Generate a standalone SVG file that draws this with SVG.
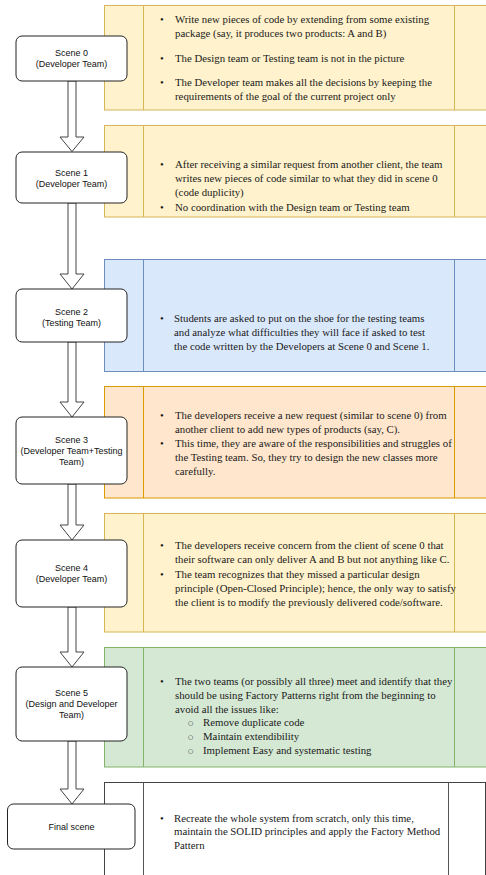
<svg xmlns="http://www.w3.org/2000/svg" width="486" height="875" viewBox="0 0 486 875">
<style>
.bg{fill:#ffffff}
.pnl{stroke-width:1}
.y{fill:#fff2cc;stroke:#d6b656}
.b{fill:#dae8fc;stroke:#6c8ebf}
.o{fill:#ffe6cc;stroke:#d79b00}
.g{fill:#d5e8d4;stroke:#82b366}
.w{fill:#ffffff;stroke:#444444}
.ly{stroke:#d6b656}
.lb{stroke:#6c8ebf}
.lo{stroke:#d79b00}
.lg{stroke:#82b366}
.lw{stroke:#555555}
.t{font-family:"Liberation Serif","Times New Roman",serif;font-size:10.8px;fill:#1a1a1a}
.sb{font-family:"DejaVu Sans",sans-serif;font-size:6px;fill:#1a1a1a}
.box{fill:#ffffff;stroke:#222222;stroke-width:1}
.lbl{font-family:"Liberation Sans",Arial,sans-serif;font-size:9px;fill:#111111;text-anchor:middle}
.arr{fill:#ffffff;stroke:#444444;stroke-width:1;stroke-linejoin:miter}
</style>
<rect class="bg" x="0" y="0" width="486" height="875"/>

<g id="panel0">
<rect class="pnl y" x="104.5" y="5.5" width="400" height="104.5"/>
<line class="ly" x1="143.5" y1="5.5" x2="143.5" y2="110"/>
<line class="ly" x1="454.5" y1="5.5" x2="454.5" y2="110"/>
<text class="t" x="160" y="23">•</text><text class="t" x="175" y="23">Write new pieces of code by extending from some existing</text>
<text class="t" x="175" y="37">package (say, it produces two products: A and B)</text>
<text class="t" x="160" y="62">•</text><text class="t" x="175" y="62">The Design team or Testing team is not in the picture</text>
<text class="t" x="160" y="86">•</text><text class="t" x="175" y="86">The Developer team makes all the decisions by keeping the</text>
<text class="t" x="175" y="100">requirements of the goal of the current project only</text>
</g>

<g id="panel1">
<rect class="pnl y" x="104.5" y="125.5" width="400" height="91.5"/>
<line class="ly" x1="143.5" y1="125.5" x2="143.5" y2="217"/>
<line class="ly" x1="454.5" y1="125.5" x2="454.5" y2="217"/>
<text class="t" x="160" y="168">•</text><text class="t" x="175" y="168">After receiving a similar request from another client, the team</text>
<text class="t" x="175" y="182">writes new pieces of code similar to what they did in scene 0</text>
<text class="t" x="175" y="196">(code duplicity)</text>
<text class="t" x="160" y="210.5">•</text><text class="t" x="175" y="210.5">No coordination with the Design team or Testing team</text>
</g>

<g id="panel2">
<rect class="pnl b" x="104.5" y="259.5" width="400" height="112"/>
<line class="lb" x1="143.5" y1="259.5" x2="143.5" y2="371.5"/>
<line class="lb" x1="454.5" y1="259.5" x2="454.5" y2="371.5"/>
<text class="t" x="160" y="322">•</text><text class="t" x="174" y="322">Students are asked to put on the shoe for the testing teams</text>
<text class="t" x="174" y="336">and analyze what difficulties they will face if asked to test</text>
<text class="t" x="174" y="349.5">the code written by the Developers at Scene 0 and Scene 1.</text>
</g>

<g id="panel3">
<rect class="pnl o" x="104.5" y="386.5" width="400" height="111.5"/>
<line class="lo" x1="143.5" y1="386.5" x2="143.5" y2="498"/>
<line class="lo" x1="454.5" y1="386.5" x2="454.5" y2="498"/>
<text class="t" x="160" y="418.5">•</text><text class="t" x="175" y="418.5">The developers receive a new request (similar to scene 0) from</text>
<text class="t" x="175" y="432.5">another client to add new types of products (say, C).</text>
<text class="t" x="160" y="446.5">•</text><text class="t" x="175" y="446.5">This time, they are aware of the responsibilities and struggles of</text>
<text class="t" x="175" y="460.5">the Testing team. So, they try to design the new classes more</text>
<text class="t" x="175" y="474.5">carefully.</text>
</g>

<g id="panel4">
<rect class="pnl y" x="104.5" y="513.5" width="400" height="118.5"/>
<line class="ly" x1="143.5" y1="513.5" x2="143.5" y2="632"/>
<line class="ly" x1="454.5" y1="513.5" x2="454.5" y2="632"/>
<text class="t" x="160" y="549">•</text><text class="t" x="175" y="549">The developers receive concern from the client of scene 0 that</text>
<text class="t" x="175" y="563">their software can only deliver A and B but not anything like C.</text>
<text class="t" x="160" y="578">•</text><text class="t" x="175" y="578">The team recognizes that they missed a particular design</text>
<text class="t" x="175" y="592">principle (Open-Closed Principle); hence, the only way to satisfy</text>
<text class="t" x="175" y="606">the client is to modify the previously delivered code/software.</text>
</g>

<g id="panel5">
<rect class="pnl g" x="104.5" y="647.5" width="400" height="119.5"/>
<line class="lg" x1="143.5" y1="647.5" x2="143.5" y2="767"/>
<line class="lg" x1="454.5" y1="647.5" x2="454.5" y2="767"/>
<text class="t" x="160" y="685">•</text><text class="t" x="175" y="685">The two teams (or possibly all three) meet and identify that they</text>
<text class="t" x="175" y="699">should be using Factory Patterns right from the beginning to</text>
<text class="t" x="175" y="712.5">avoid all the issues like:</text>
<text class="sb" x="188" y="725">○</text><text class="t" x="203" y="726">Remove duplicate code</text>
<text class="sb" x="188" y="739">○</text><text class="t" x="203" y="740">Maintain extendibility</text>
<text class="sb" x="188" y="753">○</text><text class="t" x="203" y="754">Implement Easy and systematic testing</text>
</g>

<g id="panel6">
<rect class="pnl w" x="104.5" y="782.5" width="381" height="100"/>
<line class="lw" x1="143.5" y1="782.5" x2="143.5" y2="875"/>
<line class="lw" x1="448.5" y1="782.5" x2="448.5" y2="875"/>
<text class="t" x="160" y="821.5">•</text><text class="t" x="174" y="821.5">Recreate the whole system from scratch, only this time,</text>
<text class="t" x="174" y="835">maintain the SOLID principles and apply the Factory Method</text>
<text class="t" x="174" y="848.5">Pattern</text>
</g>

<g id="connectors">
<polygon class="arr" points="68,81 76,81 76,137 84,137 72,151.5 60,137 68,137"/>
<polygon class="arr" points="68,203 76,203 76,274 84,274 72,289 60,274 68,274"/>
<polygon class="arr" points="68,342 76,342 76,402 84,402 72,417 60,402 68,402"/>
<polygon class="arr" points="68,484 76,484 76,525 84,525 72,540 60,525 68,525"/>
<polygon class="arr" points="68,607 76,607 76,652 84,652 72,667 60,652 68,652"/>
<polygon class="arr" points="68,741 76,741 76,789 84,789 72,804 60,789 68,789"/>
</g>

<g id="scene0">
<rect class="box" x="16" y="36" width="111" height="45" rx="6"/>
<text class="lbl" x="71.5" y="56">Scene 0</text>
<text class="lbl" x="71.5" y="67">(Developer Team)</text>
</g>
<g id="scene1">
<rect class="box" x="16" y="152" width="111" height="51" rx="6"/>
<text class="lbl" x="71.5" y="176">Scene 1</text>
<text class="lbl" x="71.5" y="187">(Developer Team)</text>
</g>
<g id="scene2">
<rect class="box" x="16" y="289" width="111" height="53" rx="6"/>
<text class="lbl" x="71.5" y="315">Scene 2</text>
<text class="lbl" x="71.5" y="326">(Testing Team)</text>
</g>
<g id="scene3">
<rect class="box" x="16" y="417" width="111" height="67" rx="6"/>
<text class="lbl" x="71.5" y="442.5">Scene 3</text>
<text class="lbl" x="71.5" y="453.5">(Developer Team+Testing</text>
<text class="lbl" x="71.5" y="464.5">Team)</text>
</g>
<g id="scene4">
<rect class="box" x="16" y="540" width="111" height="67" rx="6"/>
<text class="lbl" x="71.5" y="571">Scene 4</text>
<text class="lbl" x="71.5" y="582">(Developer Team)</text>
</g>
<g id="scene5">
<rect class="box" x="16" y="667" width="111" height="74" rx="6"/>
<text class="lbl" x="71.5" y="696">Scene 5</text>
<text class="lbl" x="71.5" y="707">(Design and Developer</text>
<text class="lbl" x="71.5" y="718">Team)</text>
</g>
<g id="final">
<rect class="box" x="7.5" y="804" width="127.5" height="45" rx="6"/>
<text class="lbl" x="71.5" y="830">Final scene</text>
</g>
</svg>
